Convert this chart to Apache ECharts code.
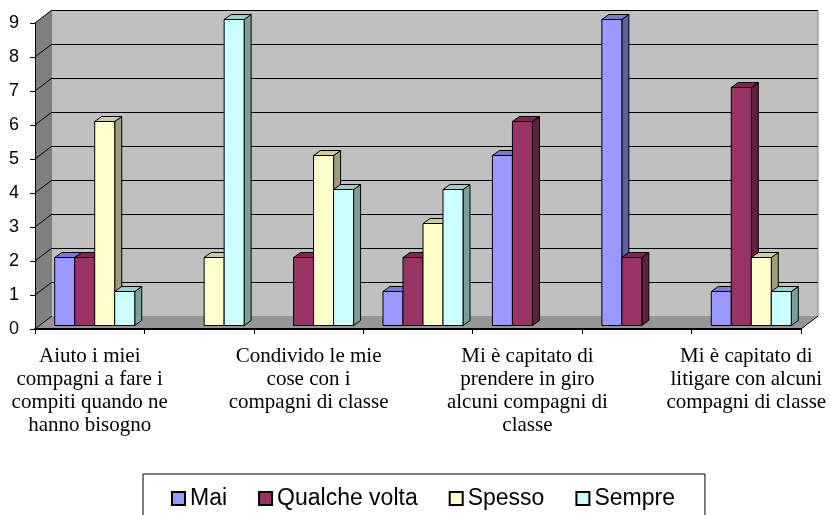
<!DOCTYPE html>
<html>
<head>
<meta charset="utf-8">
<script src="https://cdn.jsdelivr.net/npm/echarts@6/dist/echarts.min.js"></script>
<style>
  html, body { margin: 0; padding: 0; background: #fff; }
  #chart { width: 830px; height: 515px; }
</style>
</head>
<body>
<div id="chart"></div>
<script>
// categorie (le etichette nascoste nel grafico originale non sono leggibili)
var categories = [
    'Aiuto i miei\ncompagni a fare i\ncompiti quando ne\nhanno bisogno',
    '',
    'Condivido le mie\ncose con i\ncompagni di classe',
    '',
    'Mi è capitato di\nprendere in giro\nalcuni compagni di\nclasse',
    '',
    'Mi è capitato di\nlitigare con alcuni\ncompagni di classe'
];
var seriesNames = ['Mai', 'Qualche volta', 'Spesso', 'Sempre'];
var mai = [2, 0, 0, 1, 5, 9, 1];
var qualcheVolta = [2, 0, 2, 2, 6, 2, 7];
var spesso = [6, 2, 5, 3, 0, 0, 2];
var sempre = [1, 9, 4, 4, 0, 0, 1];
var yMin = 0, yMax = 9, yStep = 1;

var colors = ['#9999FF', '#993366', '#FFFFCC', '#CCFFFF'];

// profondita' 3D
var WALL_DX = 17, WALL_DY = -13;
var BAR_DX = 5, BAR_DY = -3.5;
var DEPTH_X = 7, DEPTH_Y = -5;
var BAR_RATIO = 20 / 109.4;

function shade(hex, f) {
    var n = parseInt(hex.slice(1), 16);
    var r = Math.round(((n >> 16) & 255) * f),
        g = Math.round(((n >> 8) & 255) * f),
        b = Math.round((n & 255) * f);
    return 'rgb(' + r + ',' + g + ',' + b + ')';
}

function renderWalls(params, api) {
    var cs = params.coordSys;
    var L = cs.x, R = cs.x + cs.width;
    var B = api.coord([0, yMin])[1], T = api.coord([0, yMax])[1];
    var children = [
        {type: 'polygon', shape: {points: [[L, B], [L, T], [L + WALL_DX, T + WALL_DY], [L + WALL_DX, B + WALL_DY]]},
            style: {fill: '#808080'}},
        {type: 'polygon', shape: {points: [[L, B], [R, B], [R + WALL_DX, B + WALL_DY], [L + WALL_DX, B + WALL_DY]]},
            style: {fill: '#969696'}},
        {type: 'line', shape: {x1: R, y1: B, x2: R + WALL_DX, y2: B + WALL_DY},
            style: {stroke: '#000', lineWidth: 1}},
        {type: 'line', shape: {x1: R + WALL_DX, y1: T + WALL_DY, x2: R + WALL_DX, y2: B + WALL_DY},
            style: {stroke: '#808080', lineWidth: 1}}
    ];
    for (var v = yMin; v <= yMax; v += yStep) {
        var y = api.coord([0, v])[1];
        children.push({type: 'line', shape: {x1: L, y1: y, x2: L + WALL_DX, y2: y + WALL_DY},
            style: {stroke: '#000', lineWidth: 1}});
    }
    return {type: 'group', children: children};
}

function barRenderer(k) {
    return function (params, api) {
        var v = api.value(1);
        if (!v) return;
        var idx = api.value(0);
        var top = api.coord([idx, v]);
        var base = api.coord([idx, 0]);
        var bw = api.size([1, 0])[0] * BAR_RATIO;
        var x = top[0] - 2 * bw + k * bw + BAR_DX;
        var yt = top[1] + BAR_DY, yb = base[1] + BAR_DY;
        var c = colors[k];
        var line = {stroke: '#000', lineWidth: 1, lineJoin: 'round'};
        return {
            type: 'group',
            children: [
                {type: 'polygon', shape: {points: [[x + bw, yt], [x + bw + DEPTH_X, yt + DEPTH_Y], [x + bw + DEPTH_X, yb + DEPTH_Y], [x + bw, yb]]},
                    style: Object.assign({fill: shade(c, 0.62)}, line)},
                {type: 'polygon', shape: {points: [[x, yt], [x + DEPTH_X, yt + DEPTH_Y], [x + bw + DEPTH_X, yt + DEPTH_Y], [x + bw, yt]]},
                    style: Object.assign({fill: shade(c, 0.8)}, line)},
                {type: 'rect', shape: {x: x, y: yt, width: bw, height: yb - yt},
                    style: Object.assign({fill: c}, line)}
            ]
        };
    };
}

var values = [mai, qualcheVolta, spesso, sempre];
var series = [{
    type: 'custom',
    xAxisIndex: 0, yAxisIndex: 0,
    z: 1,
    silent: true,
    renderItem: renderWalls,
    data: [[0, 0]]
}];
values.forEach(function (arr, k) {
    series.push({
        name: seriesNames[k],
        type: 'custom',
        xAxisIndex: 0, yAxisIndex: 0,
        z: 3,
        itemStyle: {color: colors[k]},
        renderItem: barRenderer(k),
        data: arr.map(function (v, i) { return [i, v]; })
    });
});

var chart = echarts.init(document.getElementById('chart'), null, {renderer: 'canvas'});
chart.setOption({
    animation: false,
    backgroundColor: '#fff',
    grid: [
        {left: 35, top: 23, width: 766, height: 306},
        {left: 35 + WALL_DX, top: 23 + WALL_DY, width: 766, height: 306,
            show: true, backgroundColor: '#C0C0C0', borderWidth: 0}
    ],
    xAxis: [
        {
            gridIndex: 0, type: 'category', data: categories, z: 10,
            axisLine: {lineStyle: {color: '#000', width: 2}},
            axisTick: {show: true, interval: 0, length: 5, lineStyle: {color: '#000'}},
            axisLabel: {interval: 1, color: '#000', fontFamily: 'Liberation Serif', fontSize: 21,
                lineHeight: 23, margin: 16, align: 'center'},
            splitLine: {show: false}
        },
        {
            gridIndex: 1, type: 'category', data: categories,
            axisLine: {show: false}, axisTick: {show: false}, axisLabel: {show: false}, splitLine: {show: false}
        }
    ],
    yAxis: [
        {
            gridIndex: 0, type: 'value', min: yMin, max: yMax, interval: yStep, z: 10,
            axisLine: {show: true, lineStyle: {color: '#000', width: 1}},
            axisTick: {show: true, length: 5, lineStyle: {color: '#000'}},
            axisLabel: {color: '#000', fontFamily: 'Liberation Sans', fontSize: 18, margin: 16},
            splitLine: {show: false}
        },
        {
            gridIndex: 1, type: 'value', min: yMin, max: yMax, interval: yStep,
            axisLine: {show: false}, axisTick: {show: false}, axisLabel: {show: false},
            splitLine: {show: true, lineStyle: {color: '#000', width: 1}}
        }
    ],
    legend: {
        data: seriesNames,
        left: 143, top: 474,
        padding: [13, 30, 30, 28],
        borderColor: '#000', borderWidth: 1, borderRadius: 0,
        itemGap: 31, itemWidth: 13, itemHeight: 13,
        icon: 'rect',
        itemStyle: {borderColor: '#000', borderWidth: 2},
        textStyle: {color: '#000', fontFamily: 'Liberation Sans', fontSize: 23}
    },
    series: series
});
</script>
</body>
</html>
